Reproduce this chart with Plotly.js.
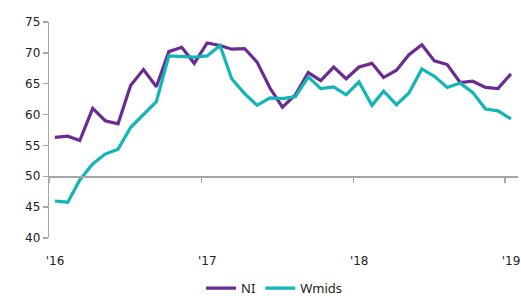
<!DOCTYPE html>
<html>
<head>
<meta charset="utf-8">
<script src="https://cdn.plot.ly/plotly-3.0.1.min.js"></script>
<style>html,body{margin:0;padding:0;background:#fff;}#chart{width:521px;height:296px;}</style>
</head>
<body>
<div id="chart"></div>
<script>
// Monthly observations (mid-month), Jan 2016 - Jan 2019
const months = [
  '2016-01-15','2016-02-15','2016-03-15','2016-04-15','2016-05-15','2016-06-15',
  '2016-07-15','2016-08-15','2016-09-15','2016-10-15','2016-11-15','2016-12-15',
  '2017-01-15','2017-02-15','2017-03-15','2017-04-15','2017-05-15','2017-06-15',
  '2017-07-15','2017-08-15','2017-09-15','2017-10-15','2017-11-15','2017-12-15',
  '2018-01-15','2018-02-15','2018-03-15','2018-04-15','2018-05-15','2018-06-15',
  '2018-07-15','2018-08-15','2018-09-15','2018-10-15','2018-11-15','2018-12-15',
  '2019-01-15'
];
const niValues = [
  56.3, 56.5, 55.8, 61.0, 59.0, 58.5, 64.7, 67.3, 64.5, 70.2, 70.9, 68.3,
  71.6, 71.2, 70.6, 70.7, 68.5, 64.3, 61.2, 63.2, 66.8, 65.5, 67.7, 65.8,
  67.7, 68.3, 66.0, 67.2, 69.7, 71.3, 68.7, 68.1, 65.2, 65.4, 64.4, 64.2,
  66.6
];
const wmidsValues = [
  46.0, 45.8, 49.4, 52.0, 53.6, 54.4, 57.9, 60.0, 62.1, 69.5, 69.4, 69.3,
  69.5, 71.2, 65.8, 63.4, 61.5, 62.7, 62.6, 62.9, 66.1, 64.2, 64.5, 63.2,
  65.3, 61.5, 63.8, 61.6, 63.5, 67.4, 66.2, 64.4, 65.1, 63.6, 60.9, 60.6,
  59.3
];
const xTickVals = ['2016-01-01','2017-01-01','2018-01-01','2019-01-01'];
const xTickText = ["'16","'17","'18","'19"];
const yTickVals = [40, 45, 50, 55, 60, 65, 70, 75];

const traces = [
  {x: months, y: niValues, name: 'NI', type: 'scatter', mode: 'lines',
   line: {color: '#6b2c91', width: 3.2}},
  {x: months, y: wmidsValues, name: 'Wmids', type: 'scatter', mode: 'lines',
   line: {color: '#12b5b8', width: 3.2}}
];

const layout = {
  width: 521, height: 296,
  margin: {l: 49, r: 3, t: 22, b: 58, autoexpand: false},
  paper_bgcolor: '#fff', plot_bgcolor: '#fff',
  showlegend: true,
  legend: {orientation: 'h', xref: 'paper', yref: 'paper',
           x: (201 - 49) / 469, xanchor: 'left', y: -0.163, yanchor: 'top',
           font: {family: 'Noto Sans', size: 13, color: '#222'},
           itemwidth: 30, tracegroupgap: 0, borderwidth: 0},
  xaxis: {
    type: 'date', range: ['2016-01-01', '2019-02-01'],
    anchor: 'free', position: (50 - 40) / (75 - 40), automargin: false,
    showgrid: false, zeroline: false,
    showline: true, linecolor: '#a6a6a6', linewidth: 1.3,
    ticks: 'outside', ticklen: 5, tickcolor: '#a6a6a6', tickwidth: 1.3,
    tickmode: 'array', tickvals: xTickVals, ticktext: xTickText,
    ticklabelstandoff: 68, ticklabelshift: 6,
    tickfont: {family: 'DejaVu Sans', size: 12, color: '#222'}
  },
  yaxis: {
    range: [40, 75], showgrid: false, zeroline: false, automargin: false,
    showline: true, linecolor: '#a6a6a6', linewidth: 1.3,
    ticks: 'outside', ticklen: 5, tickcolor: '#a6a6a6', tickwidth: 1.3,
    tickmode: 'array', tickvals: yTickVals,
    tickfont: {family: 'DejaVu Sans', size: 12, color: '#222'}
  }
};

Plotly.newPlot('chart', traces, layout, {displayModeBar: false, staticPlot: true});
</script>
</body>
</html>
